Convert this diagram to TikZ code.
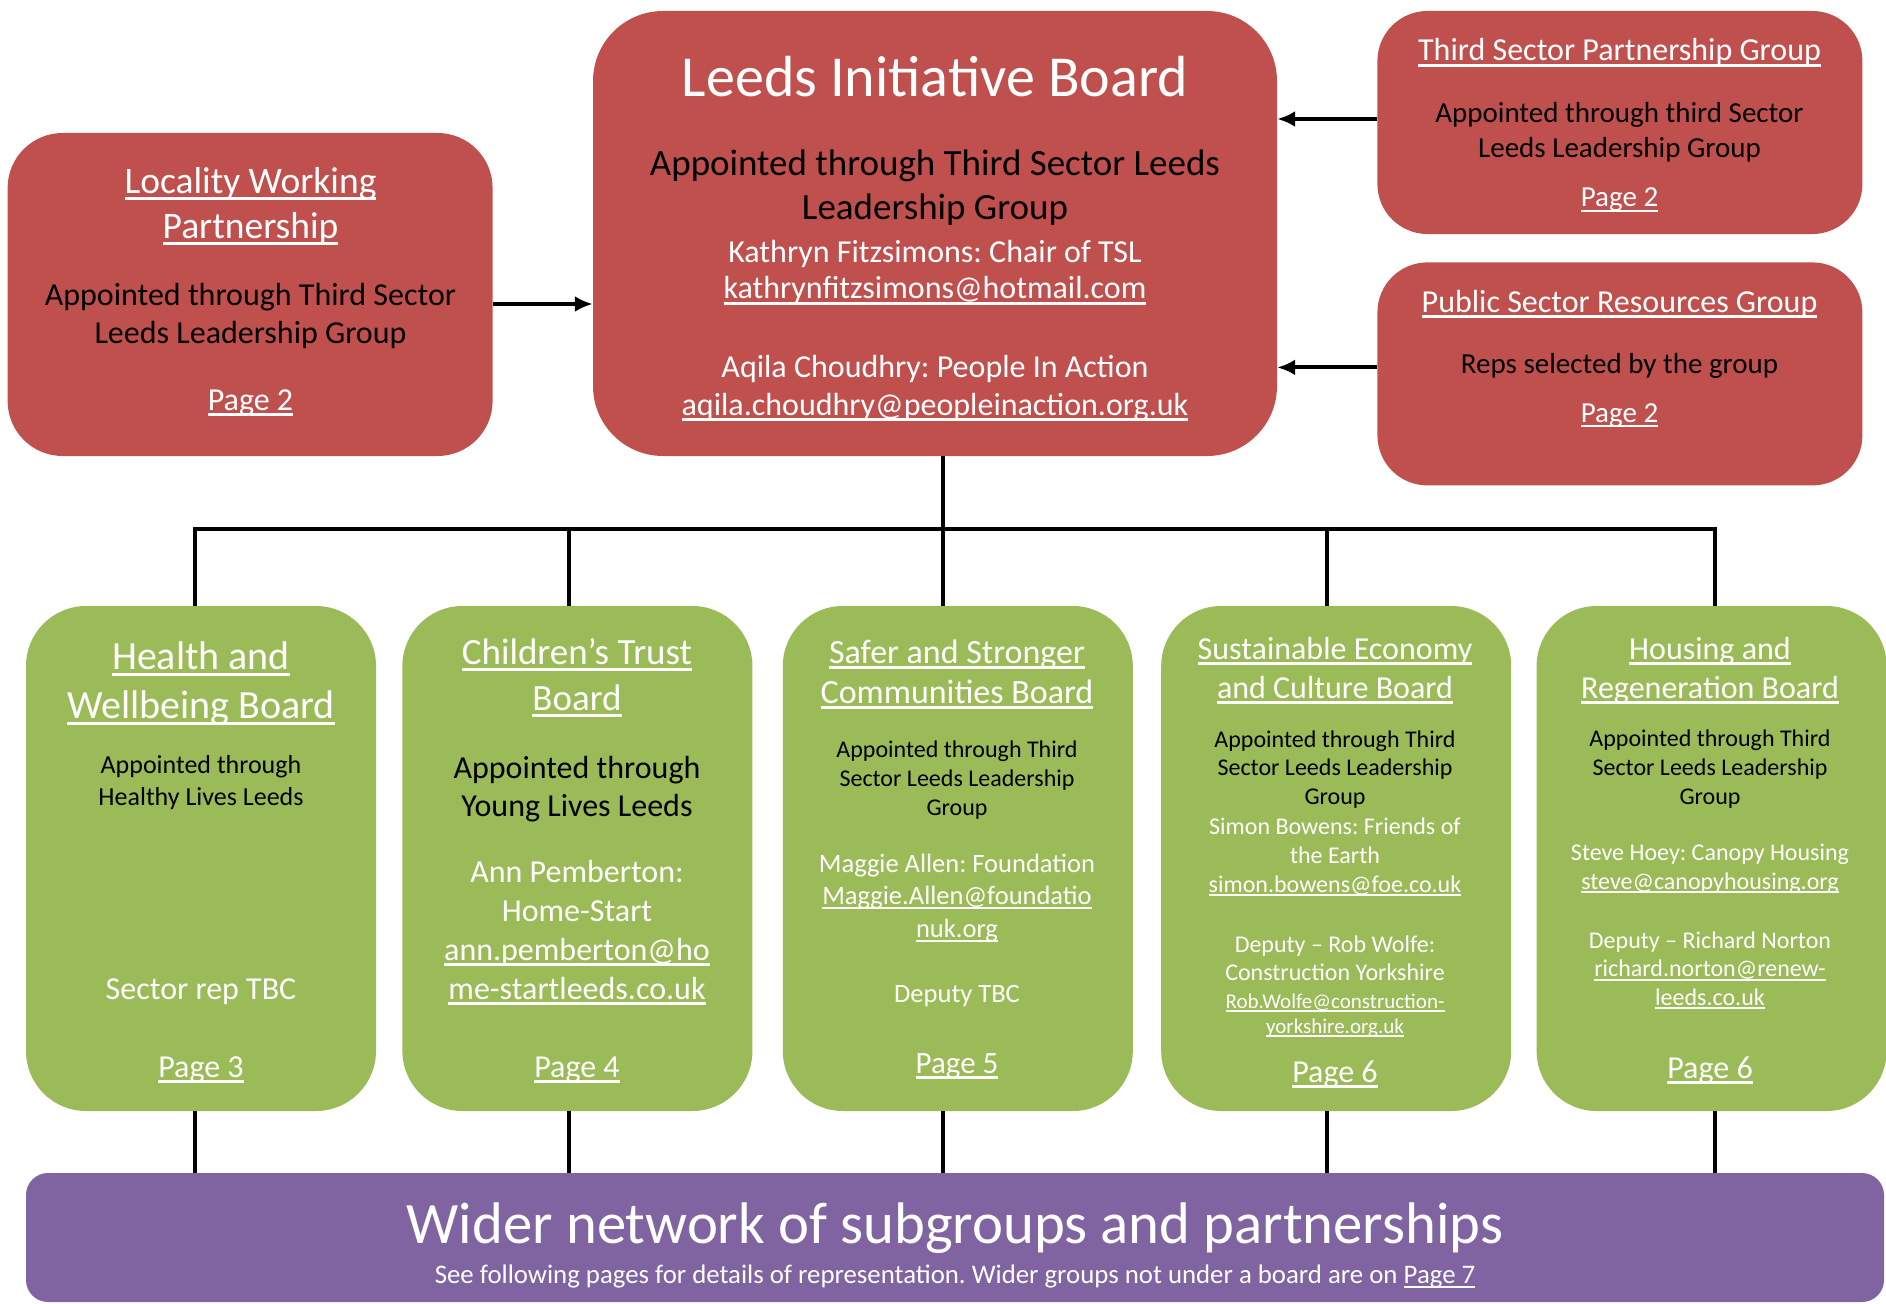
\documentclass[tikz,border=0pt]{standalone}
\usepackage{fontspec}
\setmainfont{Carlito}
\usetikzlibrary{positioning}
\usetikzlibrary{arrows.meta}

\definecolor{boardred}{HTML}{C0504D}
\definecolor{boardgreen}{HTML}{9BBB59}
\definecolor{networkpurple}{HTML}{8064A2}

% underline at a fixed depth, as the word processor draws it
\newsavebox\ulinebox
\newcommand\ulink[1]{\leavevmode\sbox\ulinebox{#1}\rlap{\rule[-0.18em]{\wd\ulinebox}{0.08em}}\usebox\ulinebox}
% natural word spaces of the current font
\newcommand\naturalspaces{\spaceskip=\fontdimen2\font\xspaceskip=\fontdimen2\font\relax}
% first line of a text block: size, leading, colour
\newcommand\firstline[3]{\fontsize{#1pt}{#2pt}\selectfont\naturalspaces\leavevmode\color{#3}}
% next group of lines: extra space, size, leading, colour
\newcommand\nextlines[4]{\par\vspace{#1pt}\fontsize{#2pt}{#3pt}\selectfont\naturalspaces\color{#4}}

\tikzset{board/.style={        % coloured boxes
           fill=#1,
           rounded corners=60pt,
           inner sep=0pt},
         boardtext/.style={    % text inside the boxes, placed at the first baseline
           anchor=base,
           align=center,
           inner sep=0pt},
         tree/.style={         % lines of the hierarchy
           draw, line width=3.2pt},
         arr/.style={          % arrows into the main board
           draw, line width=4pt,
           -{Latex[length=18pt,width=16pt]}}}

\begin{document}
\begin{tikzpicture}[x=1pt, y=-1pt]
  \useasboundingbox (0,0) rectangle (1886,1303);

  % top row
  \node [board=boardred, rounded corners=70pt, minimum width=684pt, minimum height=445pt] (lib) at (935,233.5) {};
  \node [board=boardred, rounded corners=55pt, minimum width=485pt, minimum height=323pt,
         left=100pt of lib.south west, anchor=south east] (lwp) {};
  \node [board=boardred, rounded corners=50pt, minimum width=485pt, minimum height=223pt,
         right=100pt of lib.north east, anchor=north west] (tspg) {};
  \node [board=boardred, rounded corners=50pt, minimum width=485pt, minimum height=223pt,
         below=28pt of tspg] (psrg) {};

  % boards
  \node [board=boardgreen, minimum width=350pt, minimum height=505pt] (hwb) at (201,858.5) {};
  \node [board=boardgreen, minimum width=350pt, minimum height=505pt, right=26pt of hwb] (ctb) {};
  \node [board=boardgreen, minimum width=350pt, minimum height=505pt, right=30pt of ctb] (sscb) {};
  \node [board=boardgreen, minimum width=350pt, minimum height=505pt, right=28pt of sscb] (secb) {};
  \node [board=boardgreen, minimum width=350pt, minimum height=505pt, right=25pt of secb] (hrb) {};

  \node [board=networkpurple, rounded corners=22pt, minimum width=1858pt, minimum height=129pt] (wider) at (955,1237.5) {};

  % texts
  \node [boardtext, text width=660pt] (libtext) at (935,97) {
    \firstline{58}{70}{white}Leeds Initiative Board
    \nextlines{33}{37}{45}{black}Appointed through Third Sector Leeds\\ Leadership Group
    \nextlines{5}{32}{37}{white}Kathryn Fitzsimons: Chair of TSL\\ \ulink{kathrynfitzsimons@hotmail.com}
    \nextlines{40}{32}{38}{white}Aqila Choudhry: People In Action\\ \ulink{aqila.choudhry@peopleinaction.org.uk}\par};

  \node [boardtext, text width=470pt] (lwptext) at (250.5,193) {
    \firstline{37.5}{45}{white}\ulink{Locality Working}\\ \ulink{Partnership}
    \nextlines{29}{32}{38}{black}Appointed through Third Sector\\ Leeds Leadership Group
    \nextlines{29}{32}{38}{white}\ulink{Page 2}\par};

  \node [boardtext, text width=470pt] (tspgtext) at (1619.5,61) {
    \firstline{32}{39}{white}\ulink{Third Sector Partnership Group}
    \nextlines{27}{29}{35}{black}Appointed through third Sector\\ Leeds Leadership Group
    \nextlines{14}{29}{35}{white}\ulink{Page 2}\par};

  \node [boardtext, text width=470pt] (psrgtext) at (1619.5,312) {
    \firstline{32}{39}{white}\ulink{Public Sector Resources Group}
    \nextlines{26}{29}{35}{black}Reps selected by the group
    \nextlines{14}{29}{35}{white}\ulink{Page 2}\par};

  \node [boardtext, text width=340pt] (hwbtext) at (201,669) {
    \firstline{40}{49}{white}\ulink{Health and}\\ \ulink{Wellbeing Board}
    \nextlines{23}{26}{32}{black}Appointed through\\ Healthy Lives Leeds
    \nextlines{155}{32}{39}{white}Sector rep TBC
    \nextlines{39}{32}{39}{white}\ulink{Page 3}\par};

  \node [boardtext, text width=340pt] (ctbtext) at (577,664) {
    \firstline{37}{46}{white}\ulink{Children’s Trust}\\ \ulink{Board}
    \nextlines{30}{32}{38}{black}Appointed through\\ Young Lives Leeds
    \nextlines{27}{32}{39}{white}Ann Pemberton:\\ Home-Start\\ \ulink{ann.pemberton@ho}\\ \ulink{me-startleeds.co.uk}
    \nextlines{39}{32}{39}{white}\ulink{Page 4}\par};

  \node [boardtext, text width=340pt] (sscbtext) at (957,663) {
    \firstline{34}{40}{white}\ulink{Safer and Stronger}\\ \ulink{Communities Board}
    \nextlines{25}{24}{29}{black}Appointed through Third\\ Sector Leeds Leadership\\ Group
    \nextlines{24.5}{26.5}{32.5}{white}Maggie Allen: Foundation\\ \ulink{Maggie.Allen@foundatio}\\ \ulink{nuk.org}
    \nextlines{33}{26.5}{32}{white}Deputy TBC
    \nextlines{33}{31}{38}{white}\ulink{Page 5}\par};

  \node [boardtext, text width=340pt] (secbtext) at (1335,659) {
    \firstline{32}{39}{white}\ulink{Sustainable Economy}\\ \ulink{and Culture Board}
    \nextlines{20.5}{24}{28.5}{black}Appointed through Third\\ Sector Leeds Leadership\\ Group
    \nextlines{1}{24}{29}{white}Simon Bowens: Friends of\\ the Earth\\ \ulink{simon.bowens@foe.co.uk}
    \nextlines{31.5}{24}{28.5}{white}Deputy – Rob Wolfe:\\ Construction Yorkshire
    \nextlines{2.5}{21}{25}{white}\ulink{Rob.Wolfe@construction-}\\ \ulink{yorkshire.org.uk}
    \nextlines{10}{32}{39}{white}\ulink{Page 6}\par};

  \node [boardtext, text width=340pt] (hrbtext) at (1710,659) {
    \firstline{32}{39}{white}\ulink{Housing and}\\ \ulink{Regeneration Board}
    \nextlines{19}{24}{29}{black}Appointed through Third\\ Sector Leeds Leadership\\ Group
    \nextlines{27}{24}{29}{white}Steve Hoey: Canopy Housing\\ \ulink{steve@canopyhousing.org}
    \nextlines{30.5}{24}{28.5}{white}Deputy – Richard Norton\\ \ulink{richard.norton@renew-}\\ \ulink{leeds.co.uk}
    \nextlines{34}{32}{39}{white}\ulink{Page 6}\par};

  \node [boardtext, text width=1800pt] (widertext) at (955,1243) {
    \firstline{58.7}{70}{white}Wider network of subgroups and partnerships
    \nextlines{8}{26.8}{32}{white}See following pages for details of representation. Wider groups not under a board are on \ulink{Page 7}\par};

  % arrows into the main board
  \draw [arr] ([yshift=-9.5pt]lwp.east) -- ([yshift=-9.5pt]lwp.east -| lib.west);
  \draw [arr] ([yshift=3.5pt]tspg.west) -- ([yshift=3.5pt]tspg.west -| lib.east);
  \draw [arr] ([yshift=6.5pt]psrg.west) -- ([yshift=6.5pt]psrg.west -| lib.east);

  % hierarchy
  \coordinate (d1) at (195,529);
  \coordinate (d2) at (569,529);
  \coordinate (d3) at (943,529);
  \coordinate (d4) at (1327,529);
  \coordinate (d5) at (1715,529);

  \draw [tree] (lib.south -| d3) -- (d3);
  \draw [tree] (d1 |- hwb.north) -- (d1) -- (d5) -- (d5 |- hrb.north);
  \foreach \d/\b in {d2/ctb, d3/sscb, d4/secb}
    \draw [tree] (\d) -- (\d |- \b.north);
  \foreach \d/\b in {d1/hwb, d2/ctb, d3/sscb, d4/secb, d5/hrb}
    \draw [tree] (\b.south -| \d) -- (\d |- wider.north);

\end{tikzpicture}
\end{document}
